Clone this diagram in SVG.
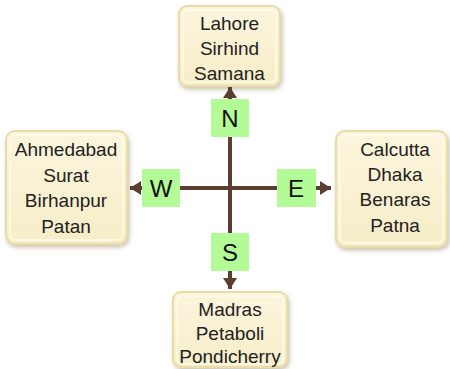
<svg xmlns="http://www.w3.org/2000/svg" width="450" height="369" viewBox="0 0 450 369">
  <defs>
    <linearGradient id="cream" x1="0" y1="0" x2="0" y2="1">
      <stop offset="0" stop-color="#FBF5DD"/>
      <stop offset="1" stop-color="#F6EDC8"/>
    </linearGradient>
    <filter id="shadow" x="-20%" y="-20%" width="140%" height="140%">
      <feDropShadow dx="1.5" dy="2.5" stdDeviation="2" flood-color="#8A7A50" flood-opacity="0.45"/>
    </filter>
    <marker id="head" markerUnits="userSpaceOnUse" markerWidth="12" markerHeight="14" viewBox="0 0 12 14" refX="11" refY="7" orient="auto">
      <path d="M0,0 L11,7 L0,14 Z" fill="#5C3D31"/>
    </marker>
    <style>
      .box { fill: url(#cream); stroke: #E9DCA6; stroke-width: 2; filter: url(#shadow); }
      .bevel { fill: none; stroke: #FFFBEA; stroke-width: 1.5; }
      .city { font-family: "Liberation Sans", Arial, sans-serif; font-size: 19px; fill: #222; text-anchor: middle; }
      .dir rect { fill: #B3FB96; }
      .dir text { font-family: "Liberation Sans", Arial, sans-serif; font-size: 24px; fill: #111; text-anchor: middle; }
      .axis { stroke: #5C3D31; stroke-width: 4; fill: none; marker-end: url(#head); }
    </style>
  </defs>

  <!-- city boxes -->
  <g id="north">
    <rect class="box" x="179" y="6" width="101" height="80" rx="8"/>
    <rect class="bevel" x="183" y="10" width="93" height="72" rx="5"/>
    <text class="city" x="229.5" y="30">Lahore</text>
    <text class="city" x="229.5" y="55">Sirhind</text>
    <text class="city" x="229.5" y="80">Samana</text>
  </g>
  <g id="west">
    <rect class="box" x="6" y="131" width="121" height="113" rx="9"/>
    <rect class="bevel" x="10" y="135" width="113" height="105" rx="6"/>
    <text class="city" x="66" y="156">Ahmedabad</text>
    <text class="city" x="66" y="182">Surat</text>
    <text class="city" x="66" y="207">Birhanpur</text>
    <text class="city" x="66" y="233">Patan</text>
  </g>
  <g id="east">
    <rect class="box" x="336" y="131" width="111" height="116" rx="9"/>
    <rect class="bevel" x="340" y="135" width="103" height="108" rx="6"/>
    <text class="city" x="395" y="156">Calcutta</text>
    <text class="city" x="395" y="181">Dhaka</text>
    <text class="city" x="395" y="206">Benaras</text>
    <text class="city" x="395" y="232">Patna</text>
  </g>
  <g id="south">
    <rect class="box" x="173" y="292" width="114" height="75" rx="8"/>
    <rect class="bevel" x="177" y="296" width="106" height="68" rx="5"/>
    <text class="city" x="230" y="316">Madras</text>
    <text class="city" x="230" y="340">Petaboli</text>
    <text class="city" x="230" y="363">Pondicherry</text>
  </g>

  <!-- compass arms -->
  <g id="connectors">
    <line class="axis" x1="230" y1="188" x2="230" y2="87"/>
    <line class="axis" x1="230" y1="188" x2="230" y2="289"/>
    <line class="axis" x1="230" y1="188" x2="130" y2="188"/>
    <line class="axis" x1="230" y1="188" x2="331" y2="188"/>
  </g>

  <!-- direction labels -->
  <g id="dir-n" class="dir"><rect x="211" y="99" width="38" height="38"/><text x="230" y="127">N</text></g>
  <g id="dir-w" class="dir"><rect x="142" y="169" width="38" height="38"/><text x="161" y="197">W</text></g>
  <g id="dir-e" class="dir"><rect x="277" y="169" width="39" height="38"/><text x="296" y="197">E</text></g>
  <g id="dir-s" class="dir"><rect x="211" y="233" width="38" height="38"/><text x="230" y="261">S</text></g>
</svg>
